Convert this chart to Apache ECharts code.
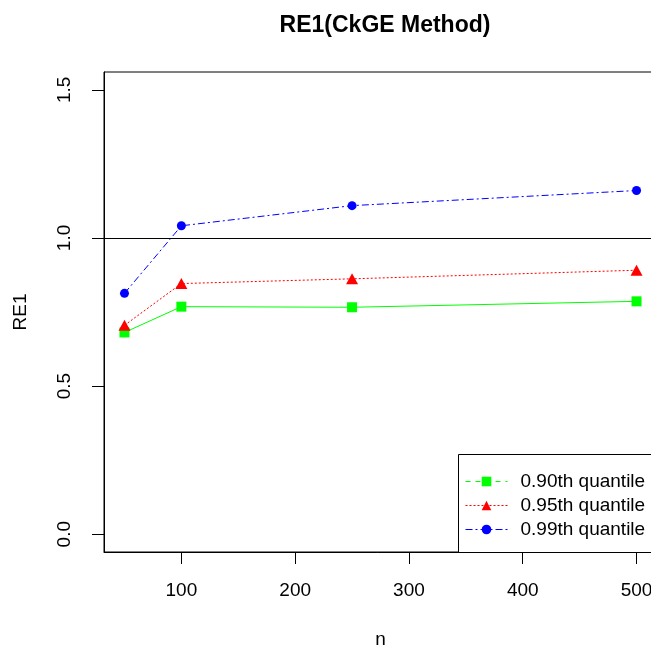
<!DOCTYPE html>
<html>
<head>
<meta charset="utf-8">
<script src="https://cdn.jsdelivr.net/npm/echarts@6/dist/echarts.min.js"></script>
<style>
  html, body { margin: 0; padding: 0; background: #fff; }
  #main { width: 651px; height: 647px; }
</style>
</head>
<body>
<div id="main"></div>
<script>
// sample sizes and RE1 values
var nValues = [50, 100, 250, 500];
var q90 = [0.681, 0.768, 0.766, 0.786];
var q95 = [0.705, 0.846, 0.862, 0.891];
var q99 = [0.813, 1.041, 1.109, 1.160];
var seriesNames = ['0.90th quantile', '0.95th quantile', '0.99th quantile'];
var xTicks = [100, 200, 300, 400, 500];
var yTicks = [0, 0.5, 1, 1.5];
var refLine = 1;

function pairs(ys) {
  return nValues.map(function (x, i) { return [x, ys[i]]; });
}

var chartDom = document.getElementById('main');
var myChart = echarts.init(chartDom);
var font = 'Liberation Sans, Arial, sans-serif';

var option = {
  animation: false,
  backgroundColor: '#fff',
  title: {
    text: 'RE1(CkGE Method)',
    left: 380,
    textAlign: 'center',
    top: 9,
    textStyle: { fontFamily: font, fontSize: 23, fontWeight: 'bold', color: '#000' }
  },
  grid: {
    left: 104, right: -6, top: 72, bottom: 95,
    outerBoundsMode: 'none',
    containLabel: false,
    show: true, borderColor: '#000', borderWidth: 1
  },
  xAxis: {
    type: 'value',
    min: 32, max: 518,
    name: 'n',
    nameLocation: 'middle',
    nameGap: 78,
    nameTextStyle: { fontFamily: font, fontSize: 19, color: '#000' },
    axisLine: { onZero: false, lineStyle: { color: '#000', width: 1 } },
    axisTick: { show: true, length: 12, customValues: xTicks, lineStyle: { color: '#000' } },
    axisLabel: { customValues: xTicks, margin: 29, fontFamily: font, fontSize: 19, color: '#000' },
    splitLine: { show: false }
  },
  yAxis: {
    type: 'value',
    min: -0.06, max: 1.56,
    name: 'RE1',
    nameLocation: 'middle',
    nameRotate: 90,
    nameGap: 74,
    nameTextStyle: { fontFamily: font, fontSize: 19, color: '#000' },
    axisLine: { onZero: false, lineStyle: { color: '#000', width: 1 } },
    axisTick: { show: true, length: 12, customValues: yTicks, lineStyle: { color: '#000' } },
    axisLabel: {
      customValues: yTicks, rotate: 90, margin: 30,
      fontFamily: font, fontSize: 19, color: '#000',
      formatter: function (v) { return v.toFixed(1); }
    },
    splitLine: { show: false }
  },
  legend: {
    orient: 'vertical',
    left: 460,
    top: 467,
    z: 10,
    itemWidth: 42,
    itemHeight: 12,
    itemGap: 5,
    textStyle: { fontFamily: font, fontSize: 19, color: '#000', padding: [0, 0, 0, 8] },
    data: [
      { name: seriesNames[0], lineStyle: { type: [5, 5], width: 1 } },
      { name: seriesNames[1], lineStyle: { width: 1 } },
      { name: seriesNames[2], lineStyle: { width: 1 } }
    ]
  },
  graphic: [{
    type: 'rect',
    shape: { x: 458.5, y: 454.5, width: 240, height: 98 },
    style: { fill: '#fff', stroke: '#000', lineWidth: 1 },
    z: 1
  }],
  series: [
    {
      name: seriesNames[0],
      type: 'line',
      data: pairs(q90),
      symbol: 'rect',
      symbolSize: 10,
      color: '#00ff00',
      lineStyle: { color: '#00ff00', width: 1 },
      markLine: {
        silent: true,
        symbol: 'none',
        label: { show: false },
        lineStyle: { color: '#000', type: 'solid', width: 1 },
        data: [{ yAxis: refLine }]
      }
    },
    {
      name: seriesNames[1],
      type: 'line',
      data: pairs(q95),
      symbol: 'triangle',
      symbolSize: [12, 11],
      color: '#ff0000',
      lineStyle: { color: '#ff0000', width: 1, type: [2, 2] }
    },
    {
      name: seriesNames[2],
      type: 'line',
      data: pairs(q99),
      symbol: 'circle',
      symbolSize: 9,
      color: '#0000ff',
      lineStyle: { color: '#0000ff', width: 1, type: [7, 3, 2, 3] }
    }
  ]
};

option && myChart.setOption(option);
</script>
</body>
</html>
